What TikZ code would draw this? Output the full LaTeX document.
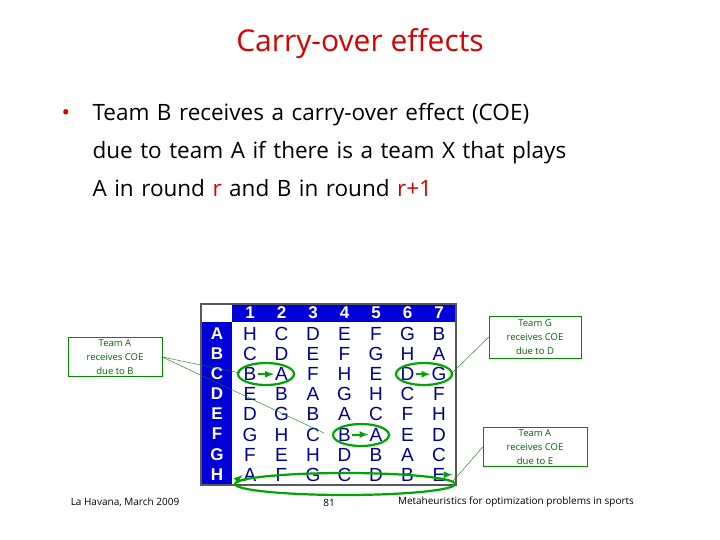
\documentclass[tikz,border=0pt]{standalone}
\usepackage{fontspec}
\setmainfont{Open Sans}
\newfontfamily\arial{Liberation Sans}
\begin{document}
\begin{tikzpicture}[x=1pt,y=-1pt,
  cell/.style={font=\arial\fontsize{19}{19}\selectfont, text=blue!60!black, inner sep=1pt},
  hdr/.style={font=\arial\bfseries\fontsize{17}{17}\selectfont, text=white},
  gbox/.style={draw=green!55!black, fill=white, font=\fontsize{9.5}{14}\selectfont, text=green!40!black, align=center, inner sep=2pt},
  gell/.style={draw=green!65!black, line width=2.2pt},
  gline/.style={draw=green!50!black, line width=0.4pt},
  garr/.style={draw=green!65!black, line width=2pt, -latex}]
\useasboundingbox (0,0) rectangle (720,540);
\node[text=red!85!black, font=\fontsize{30}{34}\selectfont] (title) at (360,44) {Carry-over effects};
\node[anchor=north west, align=left, font=\fontsize{22.5}{38}\selectfont, text width=660pt] (body) at (58,100)
{\makebox[31pt][l]{\textcolor{red!85!black}{\textbullet}}Team B receives a carry-over effect (COE)\\
\hspace*{31pt}due to team A if there is a team X that plays\\
\hspace*{31pt}A in round \textcolor{red!85!black}{r} and B in round \textcolor{red!85!black}{r+1}};
% table
\fill[blue!85!black] (201,304) rectangle (456,322);
\fill[blue!85!black] (201,322) rectangle (232,485);
\fill[white] (201,304) rectangle (232,322);
\draw[gray!70!black, line width=1.5pt] (201,304) rectangle (456,485);
\foreach \c [count=\i] in {1,...,7} { \node[hdr] (h\i) at ({218.5+31.5*\i},313) {\c}; }
\foreach \r [count=\j] in {A,B,C,D,E,F,G,H} { \node[hdr] (r\j) at (217,{313.5+20.1*\j}) {\r}; }
\foreach \row [count=\j from 0] in {{H,C,D,E,F,G,B},{C,D,E,F,G,H,A},{B,A,F,H,E,D,G},{E,B,A,G,H,C,F},{D,G,B,A,C,F,H},{G,H,C,B,A,E,D},{F,E,H,D,B,A,C},{A,F,G,C,D,B,E}}
  \foreach \lt [count=\i from 0] in \row {
  \node[cell] (c\j\i) at ({250+31.5*\i},{334+20.1*\j}) {\lt};
}
% ellipses
\draw[gell] (266,374) ellipse (28 and 11);
\draw[garr] (c20.east) -- (c21.west);
\draw[gell] (424,374) ellipse (28 and 11);
\draw[garr] (c25.east) -- (c26.west);
\draw[gell] (361,435) ellipse (28 and 11);
\draw[garr] (c53.east) -- (c54.west);
\draw[gell] (345,484) ellipse (110 and 11);
\draw[garr] (c76.east) -- ++(6,0);
\draw[garr] (239,478) -- (c70.west);
% boxes
\node[gbox, minimum width=94pt, minimum height=39pt] (bA) at (115,357) {Team A\\receives COE\\due to B};
\node[gbox, minimum width=92pt, minimum height=42pt] (bG) at (535,337) {Team G\\receives COE\\due to D};
\node[gbox, minimum width=104pt, minimum height=38pt] (bE) at (535,447) {Team A\\receives COE\\due to E};
\coordinate (e1) at (240,373);
\coordinate (e2) at (324,433);
\coordinate (e3) at (451,374);
\coordinate (e4) at (453,481);
\draw[gline] (bA.east) -- (e1);
\draw[gline] (bA.east) -- (e2);
\draw[gline] (bG.west) -- (e3);
\draw[gline] (bE.west) -- (e4);
% footer
\node[font=\fontsize{10}{12}\selectfont] (f1) at (125,502) {La Havana, March 2009};
\node[font=\fontsize{10}{12}\selectfont] (f2) at (329,503) {81};
\node[font=\fontsize{10}{12}\selectfont] (f3) at (516,502) {Metaheuristics for optimization problems in sports};
\end{tikzpicture}
\end{document}
